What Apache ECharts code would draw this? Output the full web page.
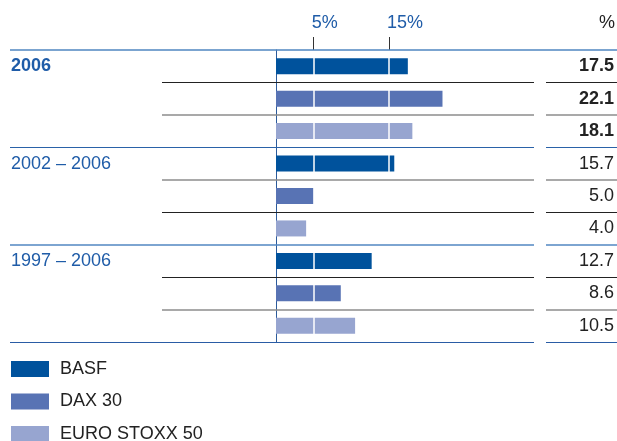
<!DOCTYPE html>
<html><head><meta charset="utf-8">
<script src="https://cdn.jsdelivr.net/npm/echarts@6/dist/echarts.min.js"></script>
<style>html,body{margin:0;padding:0;background:#fff}#c{width:617px;height:441px}</style>
</head><body><div id="c"></div>
<script>
const periods = ['2006', '2002 – 2006', '1997 – 2006'];
const seriesNames = ['BASF', 'DAX 30', 'EURO STOXX 50'];
const basf = [17.5, 15.7, 12.7];
const dax = [22.1, 5.0, 8.6];
const euro = [18.1, 4.0, 10.5];
const tickValues = [5, 15];
const unitLabel = '%';

const colors = ['#00529c', '#5873b4', '#97a5d0'];
const blue = '#1f5ca8';
const groups = [basf, dax, euro];

const cats = [], vals = [];
periods.forEach((p, pi) => {
  groups.forEach((g, gi) => { cats.push(p + '#' + gi); vals.push(g[pi]); });
});
const seriesData = groups.map((g, gi) => cats.map((c, i) => (i % 3 === gi ? vals[i] : '-')));

const chart = echarts.init(document.getElementById('c'), null, {renderer: 'canvas'});
const font = 'Liberation Sans, Arial, sans-serif';
const fs = 18;
chart.setOption({
  animation: false,
  textStyle: {fontFamily: font},
  grid: {left: 276, right: 114, top: 50, bottom: 99, containLabel: false},
  xAxis: {
    type: 'value', position: 'top', min: 0, max: 30,
    axisLine: {show: false},
    splitLine: {show: false},
    axisTick: {show: true, customValues: tickValues, length: 13, lineStyle: {color: '#333', width: 1}},
    axisLabel: {show: true, customValues: tickValues, formatter: '{value}%', color: blue, fontSize: fs,
      margin: 18, fontFamily: font, align: 'left', padding: [0, 0, 0, -2]}
  },
  yAxis: [{
    type: 'category', inverse: true, data: cats, position: 'left',
    axisLine: {show: true, onZero: false, lineStyle: {color: '#2c5b9b', width: 1}},
    axisTick: {show: false},
    axisLabel: {
      interval: 0, align: 'left', margin: 265, color: blue, fontSize: fs, fontFamily: font,
      formatter: (v, i) => i % 3 === 0 ? (i === 0 ? '{b|' + periods[0] + '}' : periods[i / 3]) : '',
      rich: {b: {fontWeight: 'bold', fontSize: fs, color: blue, fontFamily: font}}
    }
  }, {
    type: 'category', inverse: true, data: cats, position: 'right',
    axisLine: {show: false, onZero: false}, axisTick: {show: false},
    axisLabel: {
      interval: 0, align: 'right', margin: 112, color: '#222', fontSize: fs, fontFamily: font,
      formatter: (v, i) => i < 3 ? '{b|' + vals[i].toFixed(1) + '}' : vals[i].toFixed(1),
      rich: {b: {fontWeight: 'bold', fontSize: fs, color: '#222', fontFamily: font}}
    }
  }],
  legend: seriesNames.map((n, i) => ({
    orient: 'vertical', left: 11, top: 360 + i * 32.5, itemWidth: 38, itemHeight: 16, padding: 0,
    icon: 'rect', data: [n],
    textStyle: {color: '#222', fontSize: fs, fontFamily: font, padding: [0, 0, 0, 6]},
    selectedMode: false
  })),
  series: seriesNames.map((n, gi) => ({
    name: n, type: 'bar', stack: 'all', barWidth: 16, data: seriesData[gi],
    itemStyle: {color: colors[gi]},
    markLine: gi === 0 ? {
      silent: true, symbol: 'none', z: 5, label: {show: false},
      lineStyle: {color: '#fff', width: 1.5, type: 'solid'},
      data: tickValues.map(t => ({xAxis: t}))
    } : undefined
  }))
});

// separators derived from the axes
const c0 = chart.convertToPixel({yAxisIndex: 0}, cats[0]);
const c1 = chart.convertToPixel({yAxisIndex: 0}, cats[1]);
const rowStep = c1 - c0;
const rowTop = c0 - rowStep / 2;
const W = 617;
const gapL = 534, gapR = 546;
const sepStyle = {
  0: {c: '#4f86c0', w: 1.5, full: true, x0: 10},
  3: {c: '#2a62a8', w: 1, x0: 10},
  6: {c: '#5287c2', w: 1.5, x0: 10},
  9: {c: '#2a5ca5', w: 1, x0: 10},
  1: {c: '#222', w: 1, x0: 162}, 2: {c: '#8c8c8c', w: 1.5, x0: 162},
  4: {c: '#8c8c8c', w: 1.5, x0: 162}, 5: {c: '#222', w: 1, x0: 162},
  7: {c: '#222', w: 1, x0: 162}, 8: {c: '#8c8c8c', w: 1.5, x0: 162}
};
const gEls = [];
for (let b = 0; b <= cats.length; b++) {
  const s = sepStyle[b];
  const y = Math.round(rowTop + b * rowStep) + (s.w === 1 ? 0.5 : 0);
  const segs = s.full ? [[s.x0, W]] : [[s.x0, gapL], [gapR, W]];
  segs.forEach(([a, e]) => gEls.push({
    type: 'line', z: 100, silent: true,
    shape: {x1: a, y1: y, x2: e, y2: y},
    style: {stroke: s.c, lineWidth: s.w}
  }));
}
gEls.push({
  type: 'text', z: 100, right: 2, top: 14,
  style: {text: unitLabel, fill: '#222', font: fs + 'px ' + font}
});
chart.setOption({graphic: gEls});
</script></body></html>
